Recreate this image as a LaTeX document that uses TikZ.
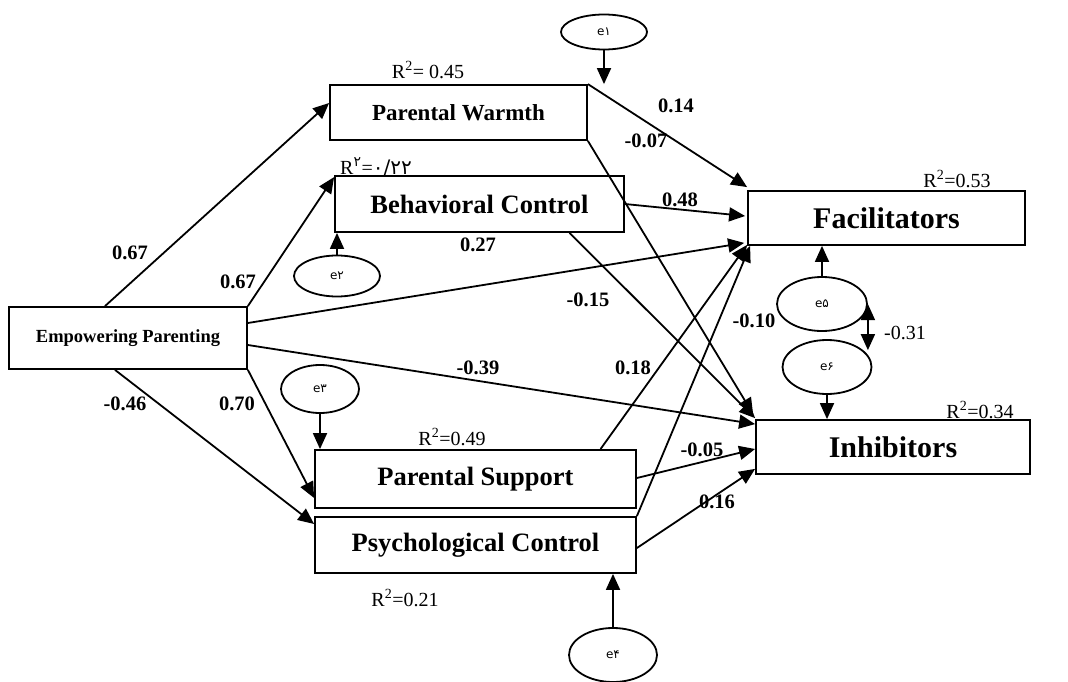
\documentclass[tikz,border=0pt]{standalone}
\usepackage{fontspec}
\setmainfont{Liberation Serif}
\newfontfamily\persianfont[Script=Arabic]{DejaVu Sans}
\usetikzlibrary{arrows.meta,shapes.geometric}

\begin{document}
\begin{tikzpicture}[x=1pt,y=-1pt,
	box/.style={draw,line width=1.8pt,inner sep=0pt,font=\fontsize{26.5}{30}\selectfont\bfseries},
	outc/.style={box,font=\fontsize{30}{34}\selectfont\bfseries},
	err/.style={draw,ellipse,line width=1.8pt,inner sep=0pt,font=\persianfont\fontsize{12}{14}\selectfont},
	eff/.style={line width=1.8pt,-{Triangle[length=16pt,width=14pt]}},
	coef/.style={font=\fontsize{20.5}{23}\selectfont\bfseries},
	rsq/.style={font=\fontsize{20}{22}\selectfont}]
	\useasboundingbox (0,0) rectangle (1068,682);

		% variables
		\node [box,minimum width=238pt,minimum height=62pt,font=\fontsize{18.5}{22}\selectfont\bfseries] (ep) at (128,338) {Empowering Parenting};
		\node [box,minimum width=257pt,minimum height=55pt,font=\fontsize{23}{27}\selectfont\bfseries] (pw) at (458.5,112.5) {Parental Warmth};
		\node [box,minimum width=289pt,minimum height=56pt] (bc) at (479.5,204) {Behavioral Control};
		\node [box,minimum width=321pt,minimum height=58pt] (ps) at (475.5,479) {Parental Support};
		\node [box,minimum width=321pt,minimum height=56pt] (psy) at (475.5,545) {Psychological Control};
		\node [outc,minimum width=277pt,minimum height=54pt] (fac) at (886.5,218) {Facilitators};
		\node [outc,minimum width=274pt,minimum height=54pt] (inh) at (893,447) {Inhibitors};
		
		% errors
		\node [err,minimum width=86pt,minimum height=35pt] (e1) at (604,32) {e۱};
		\node [err,minimum width=86pt,minimum height=41pt] (e2) at (337,276) {e۲};
		\node [err,minimum width=78pt,minimum height=48pt] (e3) at (320,389) {e۳};
		\node [err,minimum width=88pt,minimum height=54pt] (e4) at (613,655) {e۴};
		\node [err,minimum width=90pt,minimum height=54pt] (e5) at (822,304) {e۵};
		\node [err,minimum width=89pt,minimum height=54pt] (e6) at (827,367) {e۶};
		
		\draw [eff] (e1.south) -- (e1.south |- pw.north);
		\draw [eff] (e2.north) -- (e2.north |- bc.south);
		\draw [eff] (e3.south) -- (e3.south |- ps.north);
		\draw [eff] (e4.north) -- (e4.north |- psy.south);
		\draw [eff] (e5.north) -- (e5.north |- fac.south);
		\draw [eff] (e6.south) -- (e6.south |- inh.north);
		\draw [line width=1.8pt,{Triangle[length=16pt,width=14pt]}-{Triangle[length=16pt,width=14pt]}] (e5.east) -- (e5.east |- e6.25);
		
		% paths
		\draw [eff] ([xshift=-23pt]ep.north) -- ([yshift=9.5pt]pw.west);
		\draw [eff] (ep.north east) -- ([yshift=-2pt]bc.north west);
		\draw [eff] ([yshift=15pt]ep.east) -- ([xshift=-3pt,yshift=3pt]fac.south west);
		\draw [eff] ([yshift=-7pt]ep.east) -- ([yshift=-5pt]inh.north west);
		\draw [eff] (ep.south east) -- ([yshift=-19pt]ps.west);
		\draw [eff] ([xshift=-13pt]ep.south) -- ([yshift=21pt]psy.west);
		\draw [eff] (pw.north east) -- ([yshift=3pt]fac.north west);
		\draw [eff] (pw.south east) -- ([xshift=-2pt,yshift=5pt]inh.north west);
		\draw [eff] (bc.east) -- ([xshift=-2pt,yshift=2pt]fac.west);
		\draw [eff] ([xshift=90pt]bc.south) -- ([yshift=1pt]inh.north west);
		\draw [eff] ([xshift=125pt]ps.north) -- ([yshift=1pt]fac.south west);
		\draw [eff] ([yshift=1pt]ps.east) -- ([yshift=-2pt]inh.west);
		\draw [eff] (psy.north east) -- ([xshift=3pt]fac.south west);
		\draw [eff] ([yshift=-3pt]psy.east) -- ([yshift=6pt]inh.south west);
		
		% coefficients
		\node [coef] (c1) at (130,253) {0.67};
		\node [coef] (c2) at (238,282) {0.67};
		\node [coef] (c3) at (478,245) {0.27};
		\node [coef] (c4) at (588,300) {-0.15};
		\node [coef] (c5) at (478,368) {-0.39};
		\node [coef] (c6) at (633,368) {0.18};
		\node [coef] (c7) at (237,404) {0.70};
		\node [coef] (c8) at (125,404) {-0.46};
		\node [coef] (c9) at (676,106) {0.14};
		\node [coef] (c10) at (646,141) {-0.07};
		\node [coef] (c11) at (680,200) {0.48};
		\node [coef] (c12) at (754,321) {-0.10};
		\node [coef] (c13) at (702,450) {-0.05};
		\node [coef] (c14) at (717,502) {0.16};
		\node [rsq] (c15) at (905,333) {-0.31};
		
		% explained variance
		\node [rsq] (r1) at (428,70) {R\textsuperscript{2}= 0.45};
		\node [rsq] (r2) at (376,167) {R\textsuperscript{\persianfont ۲}=\persianfont ۰/۲۲};
		\node [rsq] (r3) at (957,179) {R\textsuperscript{2}=0.53};
		\node [rsq] (r4) at (452,437) {R\textsuperscript{2}=0.49};
		\node [rsq] (r5) at (980,410) {R\textsuperscript{2}=0.34};
		\node [rsq] (r6) at (405,598) {R\textsuperscript{2}=0.21};
	
	\end{tikzpicture}
\end{document}
